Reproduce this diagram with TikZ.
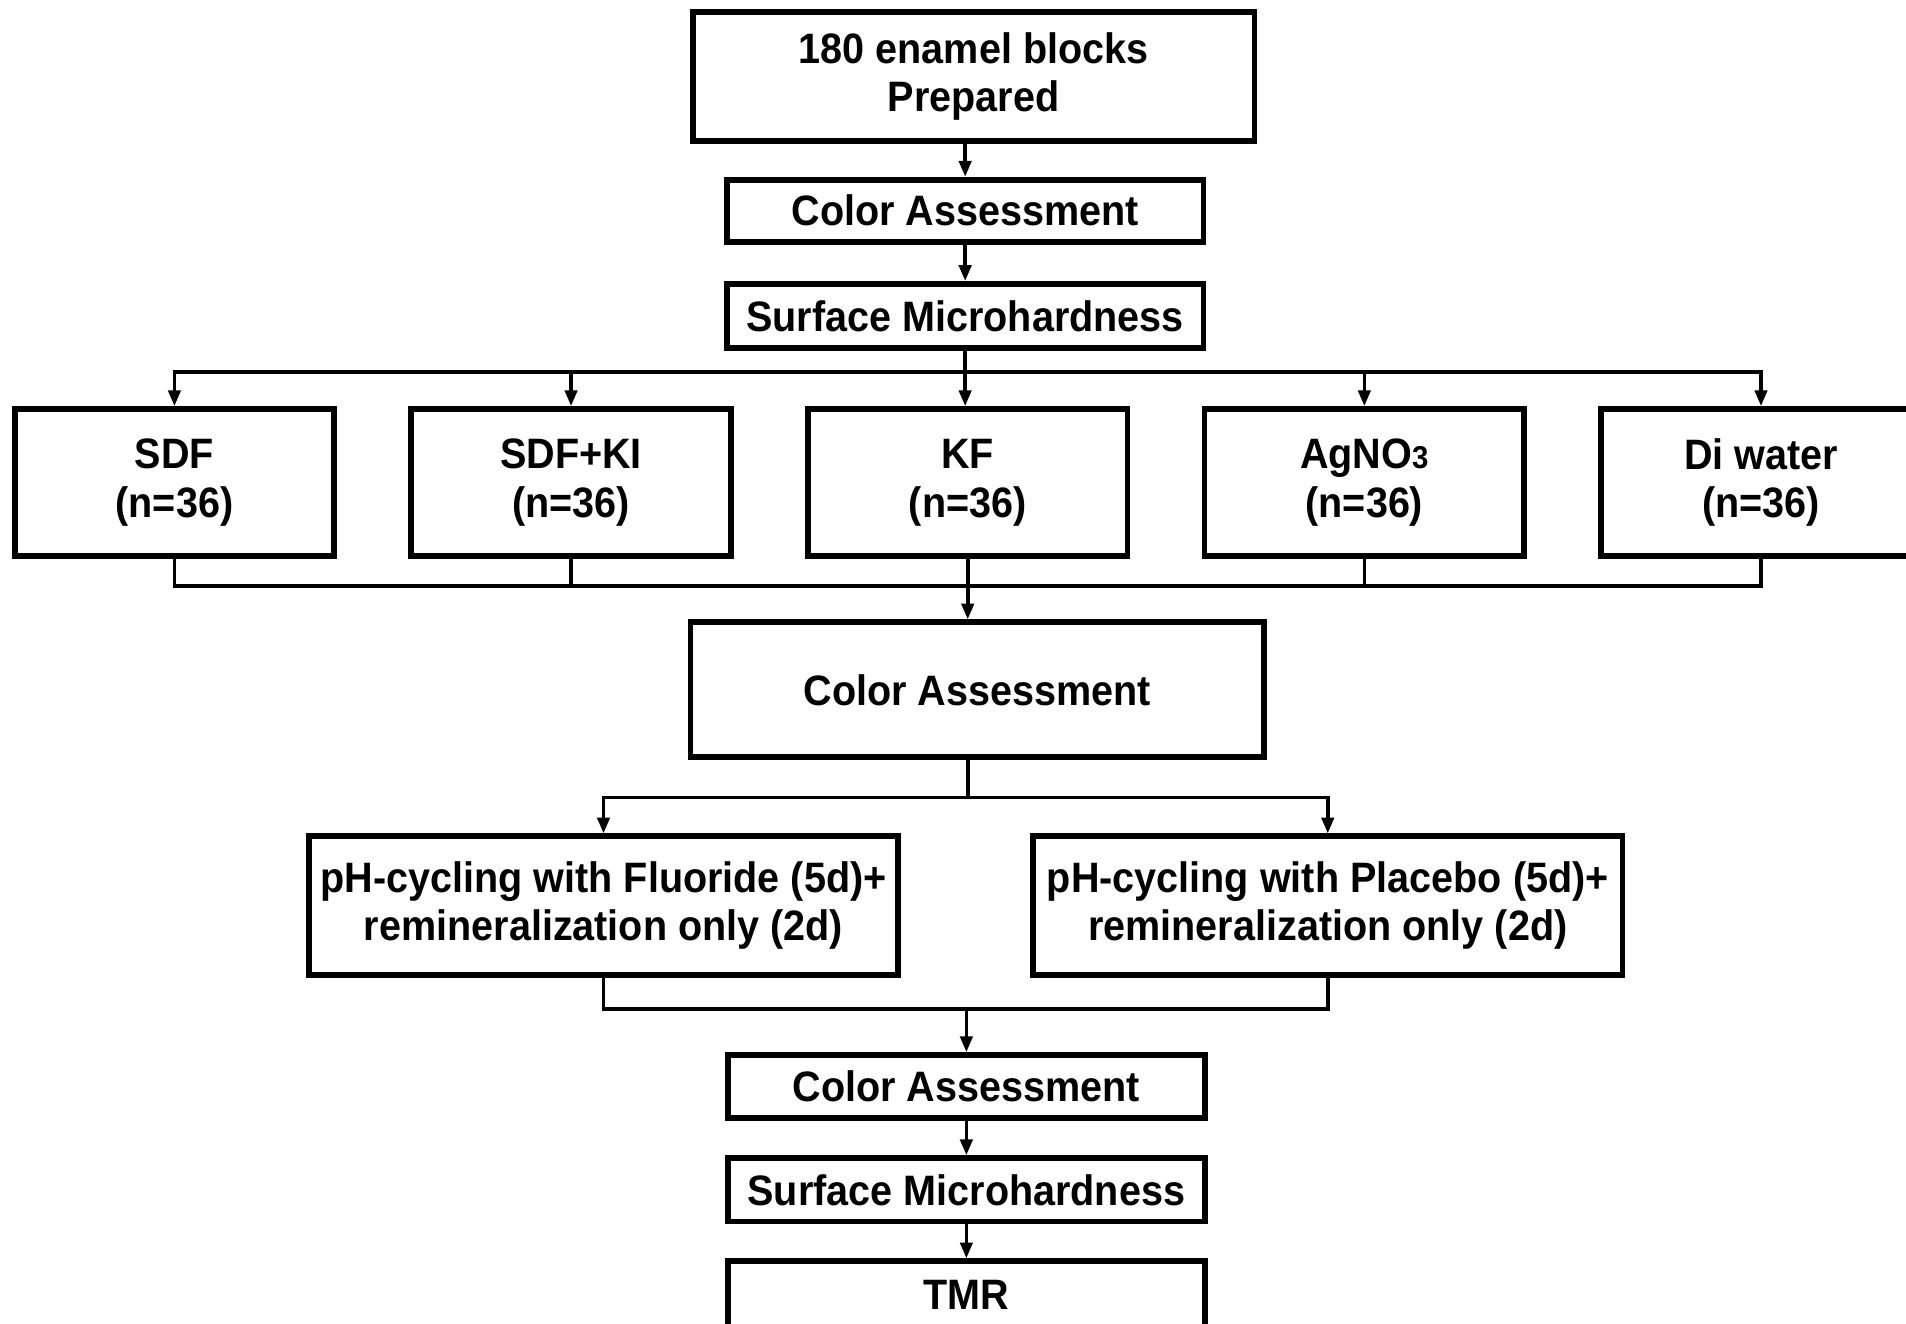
\documentclass[tikz,border=0pt]{standalone}
\usepackage{fontspec}
\setmainfont{Liberation Sans}[FakeStretch=0.93]
\usetikzlibrary{arrows.meta,positioning,calc}
\definecolor{ink}{HTML}{000000}

\begin{document}
\begin{tikzpicture}[x=0.5pt,y=-0.5pt,>={Triangle[length=6.5pt,width=5pt]},font=\fontsize{17.5}{20}\selectfont\bfseries]
\tikzset{box/.style={draw=ink,line width=2.4pt,fill=white,align=center,inner sep=2pt},
  stepbox/.style={box,minimum width=196pt,minimum height=26pt},
  groupbox/.style={box,minimum width=131.5pt,minimum height=60.5pt},
  cyclebox/.style={box,minimum width=242.5pt,minimum height=57pt},
  flowline/.style={draw=ink,line width=1.5pt,line cap=rect},
  arr/.style={flowline,->}}
\useasboundingbox (0,0) rectangle (1568,1089);
% preparation and baseline
\node[box,minimum width=231pt,minimum height=53pt] (prep) at (801,63) {180 enamel blocks\\Prepared};
\node[stepbox,below=13.5pt of prep,xshift=-3.5pt,minimum height=25.5pt] (col1) {Color Assessment};
\node[stepbox,below=15pt of col1,minimum height=26.5pt] (hard1) {Surface Microhardness};
% treatment groups
\node[groupbox] (sdf) at (143.5,397) {SDF\\(n=36)};
\node[groupbox,right=29.25pt of sdf] (sdfki) {SDF+KI\\(n=36)};
\node[groupbox,right=29.25pt of sdfki] (kf) {KF\\(n=36)};
\node[groupbox,right=29.25pt of kf] (agno) {AgNO{\fontsize{13}{13}\selectfont 3}\\(n=36)};
\node[groupbox,right=29.25pt of agno] (dw) {Di water\\(n=36)};
\node[box,minimum width=236pt,minimum height=55.5pt] (col2) at (804,567.5) {Color Assessment};
% pH-cycling
\node[cyclebox] (fluor) at (496.5,745) {pH-cycling with Fluoride (5d)+\\remineralization only (2d)};
\node[cyclebox,right=53pt of fluor] (plac) {pH-cycling with Placebo (5d)+\\remineralization only (2d)};
% final tests
\node[stepbox] (col3) at (795,894) {Color Assessment};
\node[stepbox,below=14pt of col3] (hard2) {Surface Microhardness};
\node[stepbox,below=14pt of hard2,minimum height=28pt] (tmr) {TMR};
\coordinate (bus1) at (797,306);
\coordinate (bus2) at (797,482);
\coordinate (bus3) at (797,656);
\coordinate (bus4) at (797,830);
% connectors
\draw[arr] (prep.south -| col1.north) -- (col1.north);
\draw[arr] (col1) -- (hard1);
\draw[flowline] (hard1.south) -- (hard1.south |- bus1);
\draw[flowline] (sdf.north |- bus1) -- (dw.north |- bus1);
\foreach \g in {sdf,sdfki,agno,dw}
  \draw[arr] (\g.north |- bus1) -- (\g.north);
\draw[arr] (hard1.south |- bus1) -- (kf.north -| hard1.south);
\foreach \g in {sdf,sdfki,kf,agno,dw}
  \draw[flowline] (\g.south) -- (\g.south |- bus2);
\draw[flowline] (sdf.south |- bus2) -- (dw.south |- bus2);
\draw[arr] (bus2 -| kf.south) -- (col2.north -| kf.south);
\draw[flowline] (col2.south -| kf.south) -- (bus3 -| kf.south);
\draw[flowline] (fluor.north |- bus3) -- (plac.north |- bus3);
\draw[arr] (fluor.north |- bus3) -- (fluor.north);
\draw[arr] (plac.north |- bus3) -- (plac.north);
\draw[flowline] (fluor.south) -- (fluor.south |- bus4);
\draw[flowline] (plac.south) -- (plac.south |- bus4);
\draw[flowline] (fluor.south |- bus4) -- (plac.south |- bus4);
\draw[arr] (bus4 -| col3.north) -- (col3.north);
\draw[arr] (col3) -- (hard2);
\draw[arr] (hard2) -- (tmr);
\end{tikzpicture}
\end{document}
